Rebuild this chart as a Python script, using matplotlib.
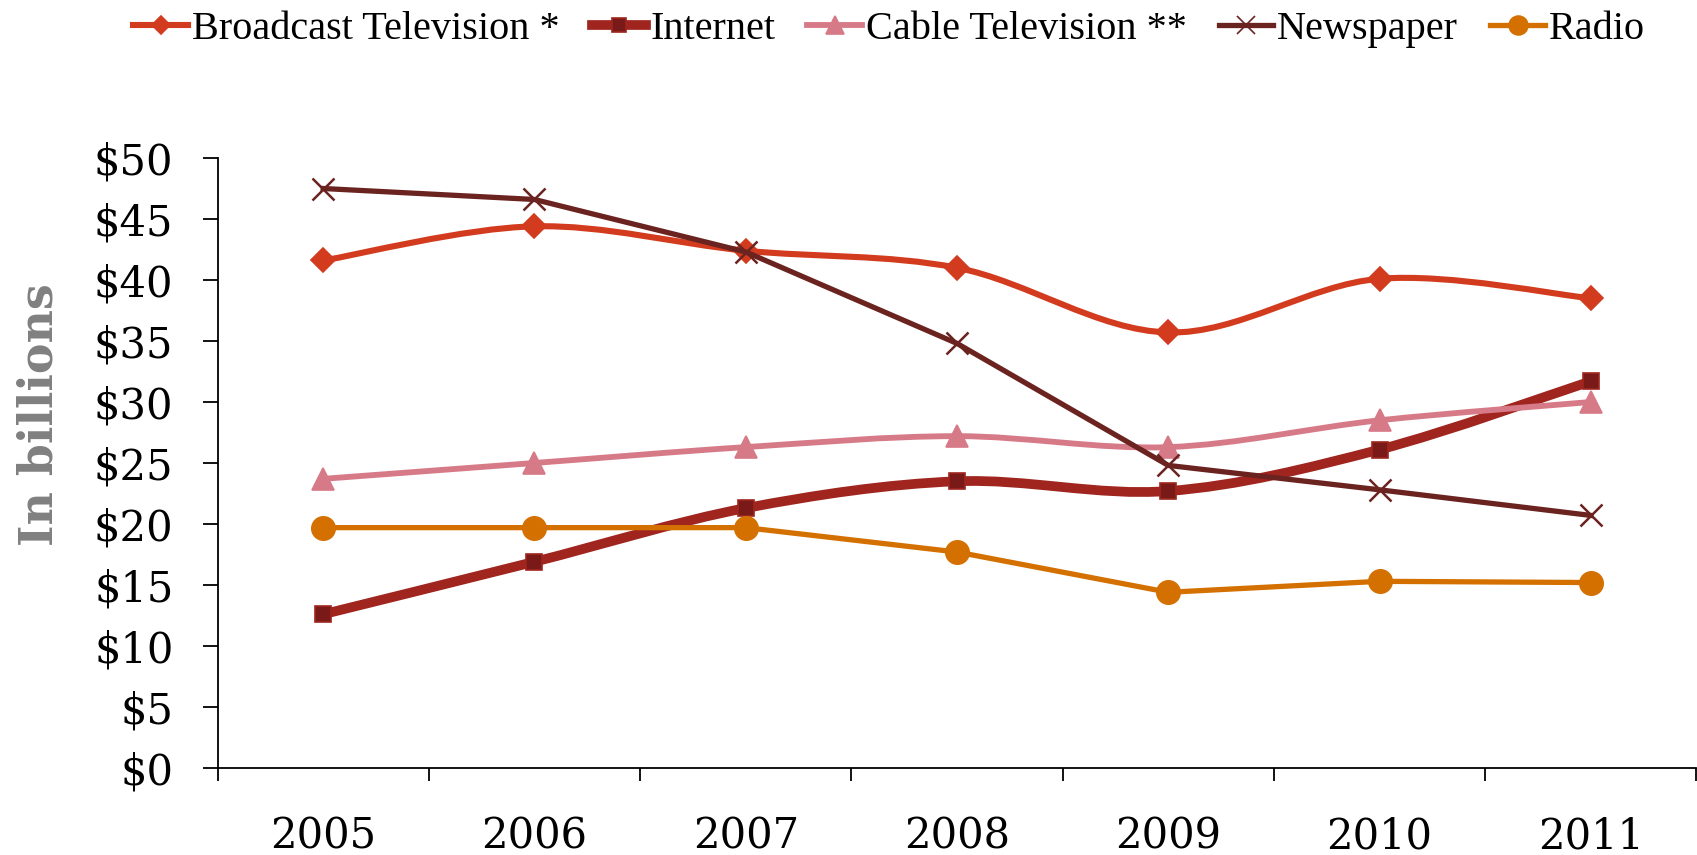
import numpy as np
import matplotlib
matplotlib.use("Agg")
import matplotlib.pyplot as plt
from matplotlib.path import Path
from matplotlib.patches import PathPatch
from matplotlib.lines import Line2D

years = ['2005', '2006', '2007', '2008', '2009', '2010', '2011']
broadcast = [41.6, 44.4, 42.4, 41.0, 35.7, 40.1, 38.5]
internet = [12.6, 16.9, 21.3, 23.5, 22.7, 26.1, 31.7]
cable = [23.7, 25.0, 26.3, 27.2, 26.3, 28.5, 30.0]
newspaper = [47.5, 46.6, 42.3, 34.8, 24.8, 22.8, 20.7]
radio = [19.7, 19.7, 19.7, 17.7, 14.4, 15.3, 15.2]
yticks = [0, 5, 10, 15, 20, 25, 30, 35, 40, 45, 50]

# name, values, colour, marker colour, marker, size, linewidth, smoothed
series = [
    ('Broadcast Television *', broadcast, '#D33B1F', '#D33B1F', 'D', 12, 4.4, True),
    ('Internet', internet, '#A0251F', '#7A1A18', 's', 12, 7.0, True),
    ('Cable Television **', cable, '#D77A88', '#D77A88', '^', 16, 4.2, True),
    ('Newspaper', newspaper, '#6B2320', '#6B2320', 'x', 16, 3.8, False),
    ('Radio', radio, '#D47000', '#D47000', 'o', 17, 3.8, False),
]

def smooth_path(x, y):
    # excel style bezier smoothing through the points
    x = np.asarray(x, float)
    y = np.asarray(y, float)
    n = len(x)
    verts = [(x[0], y[0])]
    codes = [Path.MOVETO]
    for i in range(n - 1):
        p0 = (x[max(i - 1, 0)], y[max(i - 1, 0)])
        p1 = (x[i], y[i])
        p2 = (x[i + 1], y[i + 1])
        p3 = (x[min(i + 2, n - 1)], y[min(i + 2, n - 1)])
        c1 = (p1[0] + (p2[0] - p0[0]) / 6, p1[1] + (p2[1] - p0[1]) / 6)
        c2 = (p2[0] - (p3[0] - p1[0]) / 6, p2[1] - (p3[1] - p1[1]) / 6)
        verts += [c1, c2, p2]
        codes += [Path.CURVE4] * 3
    return Path(verts, codes)

fig = plt.figure(figsize=(16.97, 8.55), dpi=100)
ax = fig.add_axes([0.1282, 0.1018, 0.8715, 0.7134])

xs = np.arange(len(years))
handles = []
for name, vals, col, mcol, mk, ms, lw, smooth in series:
    if smooth:
        ax.add_patch(PathPatch(smooth_path(xs, vals), facecolor='none', edgecolor=col,
                               lw=lw, capstyle='round', joinstyle='round'))
        ax.plot(xs, vals, ls='none', marker=mk, ms=ms, color=mcol, mec=col, mew=1.2)
    else:
        ax.plot(xs, vals, color=col, lw=lw, marker=mk, ms=ms, mew=1.8 if mk == 'x' else 1)
    handles.append(Line2D([0], [0], color=col, lw=lw, marker=mk, ms=ms * 0.8,
                          mfc=mcol, mec=col, mew=1.2))

ax.set_xlim(-0.5, len(years) - 0.5)
ax.set_ylim(0, 50)
ax.set_yticks(yticks)
ax.set_yticklabels(['$' + str(v) for v in yticks], fontfamily='DejaVu Serif', fontsize=30)
ax.set_xticks(xs)
ax.set_xticklabels(years, fontfamily='DejaVu Serif', fontsize=30)
ax.set_xticks(np.arange(len(years) + 1) - 0.5, minor=True)
ax.tick_params(axis='x', which='major', length=0, pad=34)
ax.tick_params(axis='x', which='minor', length=9.5, width=1.3, direction='out')
ax.tick_params(axis='y', length=10.8, width=1.3, pad=21)
for s in ['top', 'right']:
    ax.spines[s].set_visible(False)
for s in ['left', 'bottom']:
    ax.spines[s].set_linewidth(1.3)

ax.set_ylabel('In billions', fontfamily='DejaVu Serif', fontweight='bold', fontsize=33,
              color='#808080')
ax.yaxis.set_label_coords(-0.105, 0.58)

fig.legend(handles, [s[0] for s in series], loc='upper center', bbox_to_anchor=(0.524, 1.03),
           ncol=5, frameon=False, handlelength=1.35, handletextpad=0.1, columnspacing=0.8,
           prop={'family': 'Liberation Serif', 'size': 29})

fig.savefig('out.png', dpi=100)
